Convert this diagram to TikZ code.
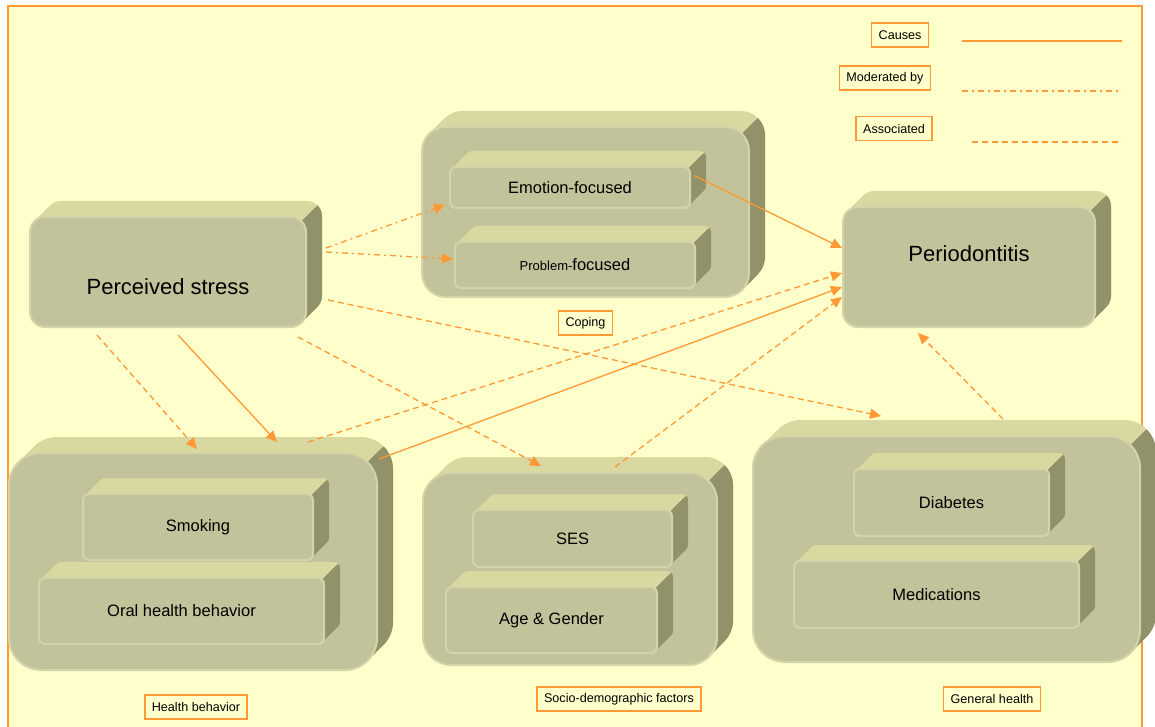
\documentclass[tikz,border=0pt]{standalone}
\usepackage{fontspec}
\setmainfont{Liberation Sans}
\usetikzlibrary{arrows.meta,calc,positioning}

\definecolor{paper}{RGB}{255,255,204}
\definecolor{tangerine}{RGB}{255,153,51}
\definecolor{slabfront}{RGB}{195,195,155}
\definecolor{slabtop}{RGB}{216,216,160}
\definecolor{slabside}{RGB}{145,145,106}
\definecolor{slabrim}{RGB}{212,212,170}

\tikzset{
  slabface/.style={fill=slabfront, draw=slabrim, line width=1pt, inner sep=0pt,
    font=\fontsize{8.25}{10}\selectfont},
  tag/.style={draw=tangerine, line width=0.75pt, fill=paper, inner xsep=3.5pt,
    inner ysep=0pt, minimum height=12pt, font=\fontsize{6.3}{7.5}\selectfont},
  link/.style={tangerine, line width=0.65pt, -{Triangle[length=5.5pt,width=5pt]}},
  causes/.style={link},
  moderated/.style={link, dash pattern=on 3pt off 2pt on 1pt off 2pt},
  associated/.style={link, dash pattern=on 3pt off 2pt},
}

% 3D slab: [node options]{name}{x1}{y1}{x2}{y2}{corner radius}{text}, all in px
\newcommand{\slabbox}[8][]{%
  \foreach \k in {1,...,16}
    \fill[slabtop, rounded corners=#7*0.5pt] (#3+\k,#4-\k) rectangle (#5+\k,#6-\k);
  \begin{scope}
    \clip ($(#5,#4)+(-0.3*#7,0.3*#7)$) -- ++(100,-100) -- ++(0,1000) -- ++(-100,0) -- cycle;
    \foreach \k in {1,...,16}
      \fill[slabside, rounded corners=#7*0.5pt] (#3+\k,#4-\k) rectangle (#5+\k,#6-\k);
  \end{scope}
  \node[slabface, minimum width=(#5-#3)*0.5pt, minimum height=(#6-#4)*0.5pt,
    rounded corners=#7*0.5pt, #1] (#2) at ({(#3+#5)/2},{(#4+#6)/2}) {#8};
}

\begin{document}
\begin{tikzpicture}[x=0.5pt, y=-0.5pt]
  \useasboundingbox (0,0) rectangle (1155,727);
  \draw[tangerine, line width=0.75pt, fill=paper] (8,6) rectangle (1142,760);

  % coping
  \slabbox{coping}{422}{127}{749}{297}{24}{}
  \slabbox{emotion}{450}{167}{690}{208}{6}{Emotion-focused}
  \slabbox{problem}{455}{242}{695}{288}{6}{{\fontsize{6.5}{8}\selectfont Problem-}focused}

  % stress and outcome
  \slabbox[font=\fontsize{11}{13}\selectfont, text height=23pt]{stress}{30}{217}{306}{327}{15}{Perceived stress}
  \slabbox[font=\fontsize{11}{13}\selectfont, text depth=13pt]{perio}{843}{207}{1095}{327}{15}{Periodontitis}

  % health behavior
  \slabbox{health}{9}{453}{377}{670}{32}{}
  \slabbox{smoking}{83}{494}{313}{560}{6}{Smoking}
  \slabbox{oral}{39}{578}{324}{644}{6}{Oral health behavior}

  % socio-demographic factors
  \slabbox{socio}{423}{473}{717}{665}{28}{}
  \slabbox{ses}{473}{510}{672}{567}{6}{SES}
  \slabbox{agegender}{446}{587}{657}{653}{6}{Age \& Gender}

  % general health
  \slabbox{general}{753}{436}{1140}{662}{32}{}
  \slabbox{diabetes}{854}{469}{1049}{536}{6}{Diabetes}
  \slabbox{medication}{794}{561}{1079}{628}{6}{Medications}

  % group labels
  \node[tag, below=6pt of coping] (copingtag) {Coping};
  \node[tag] (healthtag) at (196,707) {Health behavior};
  \node[tag] (sociotag) at (619,699) {Socio-demographic factors};
  \node[tag] (generaltag) at (992,699) {General health};

  % legend
  \node[tag] (causestag) at (900,35) {Causes};
  \node[tag] (moderatedtag) at (885,78) {Moderated by};
  \node[tag] (associatedtag) at (894,128.5) {Associated};
  \draw[causes, -] (962,41) -- (1122,41);
  \draw[moderated, -] (962,91) -- (1122,91);
  \draw[associated, -] (972,142) -- (1122,142);

  % links
  \draw[moderated] ($(stress.east)+(19,-24)$) -- ($(emotion.south west)+(-4,-4)$);
  \draw[moderated] ($(stress.east)+(19,-20)$) -- ($(problem.west)+(-1,-6)$);
  \draw[causes] ($(emotion.east)+(3,-12)$) -- ($(perio.west)+(0,-19)$);
  \draw[associated] ($(stress.east)+(21,28)$) -- ($(general.north west)+(129,-19)$);
  \draw[associated] ($(stress.south east)+(-9,9)$) -- ($(socio.north)+(-29,-6)$);
  \draw[associated] ($(stress.south west)+(68,7)$) -- ($(health.north)+(4,-3)$);
  \draw[causes] ($(stress.south)+(10,7)$) -- ($(health.north)+(84,-10)$);
  \draw[associated] ($(health.north east)+(-70,-10)$) -- ($(perio.west)+(0,6)$);
  \draw[causes] ($(health.north east)+(1,7)$) -- ($(perio.west)+(0,20)$);
  \draw[associated] ($(socio.north)+(45,-5)$) -- ($(perio.west)+(0,30)$);
  \draw[associated] ($(general.north)+(56.5,-16)$) -- ($(perio.south)+(-51,5)$);
\end{tikzpicture}
\end{document}
